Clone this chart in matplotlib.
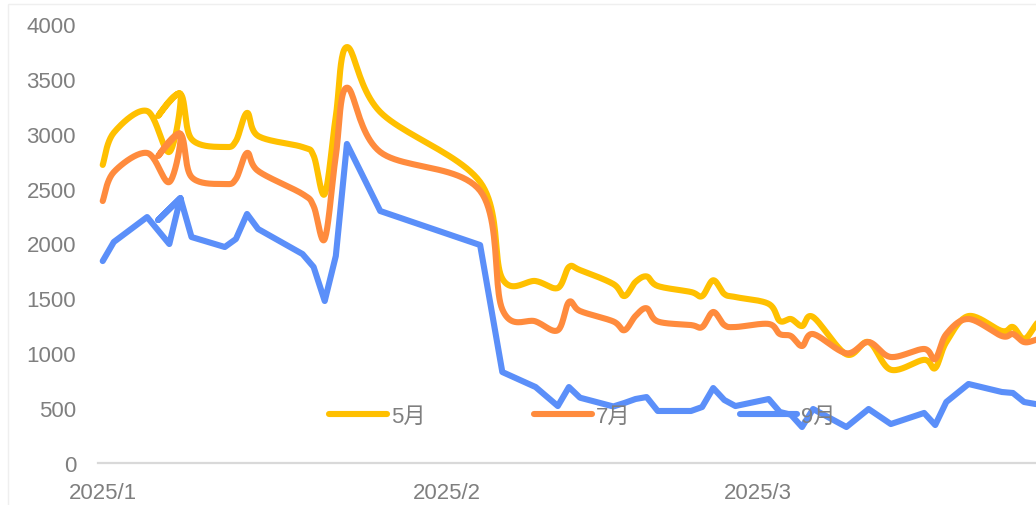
import matplotlib.pyplot as plt
import matplotlib.dates as mdates
import numpy as np
import pandas as pd
from matplotlib.patches import Rectangle

# data (dates are in source order, Jan 7 sits out of order)
dates = ['2025-01-02', '2025-01-03', '2025-01-06', '2025-01-08', '2025-01-09',
         '2025-01-07', '2025-01-09', '2025-01-10', '2025-01-13', '2025-01-14',
         '2025-01-15', '2025-01-16', '2025-01-20', '2025-01-21', '2025-01-22',
         '2025-01-23', '2025-01-24', '2025-01-27', '2025-02-05', '2025-02-07',
         '2025-02-10', '2025-02-12', '2025-02-13', '2025-02-14', '2025-02-17',
         '2025-02-18', '2025-02-19', '2025-02-20', '2025-02-21', '2025-02-24',
         '2025-02-25', '2025-02-26', '2025-02-27', '2025-02-28', '2025-03-03',
         '2025-03-04', '2025-03-05', '2025-03-06', '2025-03-07', '2025-03-10',
         '2025-03-12', '2025-03-14', '2025-03-17', '2025-03-18', '2025-03-19',
         '2025-03-21', '2025-03-24', '2025-03-25', '2025-03-26', '2025-03-27',
         '2025-03-28']

may = [2716, 3010, 3207, 2834, 3362, 3162, 3362, 2952, 2879, 2934,
       3190, 2980, 2879, 2800, 2451, 3160, 3790, 3198, 2560, 1680,
       1658, 1595, 1786, 1758, 1631, 1521, 1650, 1700, 1613, 1558,
       1521, 1665, 1540, 1512, 1450, 1294, 1312, 1248, 1330, 990,
       1102, 850, 940, 865, 1102, 1339, 1203, 1239, 1130, 1250,
       1400]

jul = [2387, 2651, 2825, 2560, 2998, 2797, 2998, 2606, 2542, 2588,
       2825, 2661, 2451, 2340, 2041, 2800, 3420, 2834, 2480, 1400,
       1290, 1210, 1467, 1385, 1290, 1210, 1340, 1410, 1290, 1257,
       1239, 1376, 1257, 1239, 1267, 1175, 1157, 1066, 1175, 1000,
       1102, 966, 1039, 948, 1175, 1312, 1157, 1175, 1102, 1120,
       1160]

sep = [1840, 2014, 2241, 1995, 2414, 2214, 2414, 2059, 1968, 2041,
       2269, 2132, 1904, 1786, 1476, 1886, 2907, 2296, 1986, 829,
       692, 519, 692, 595, 515, 547, 583, 601, 474, 474,
       510, 683, 574, 519, 583, 465, 440, 328, 492, 328,
       492, 355, 456, 346, 556, 720, 647, 638, 556, 538,
       530]

series_names = ['5月', '7月', '9月']
colors = ['#FFC000', '#FF8B3D', '#5B8FF9']
tick_dates = ['2025-01-02', '2025-02-02', '2025-03-02']
tick_labels = ['2025/1', '2025/2', '2025/3']

plt.rcParams['font.family'] = ['Liberation Sans', 'Noto Sans CJK SC']


def smooth(x, y, n=24):
    # Excel-like smoothed line: Catmull-Rom segments drawn as cubic Beziers
    p = np.column_stack([x, y]).astype(float)
    p = np.vstack([p[0], p, p[-1]])
    t = np.linspace(0, 1, n)[:, None]
    out = []
    for i in range(1, len(p) - 2):
        a, b = p[i], p[i + 1]
        c1 = a + (p[i + 1] - p[i - 1]) / 6
        c2 = b - (p[i + 2] - p[i]) / 6
        seg = (1 - t) ** 3 * a + 3 * (1 - t) ** 2 * t * c1 + 3 * (1 - t) * t ** 2 * c2 + t ** 3 * b
        out.append(seg if i == 1 else seg[1:])
    out = np.vstack(out)
    return out[:, 0], out[:, 1]


x = mdates.date2num(pd.to_datetime(dates))

fig = plt.figure(figsize=(10.36, 5.06), dpi=100)
fig.add_artist(Rectangle((8 / 1036, -0.1), 1.2, (501 / 506) + 0.1, transform=fig.transFigure,
                         fill=False, edgecolor='#efefef', linewidth=1))
ax = fig.add_axes([98 / 1036, 42 / 506, 938 / 1036, 439 / 506])

lw = 4.4
for name, vals, col, smoothed in zip(series_names, [may, jul, sep], colors, [True, True, False]):
    if smoothed:
        xs, ys = smooth(x, vals)
    else:
        xs, ys = x, np.array(vals)
    ax.plot(xs, ys, color=col, lw=lw, label=name,
            solid_capstyle='round', solid_joinstyle='round')

start = mdates.date2num(pd.Timestamp('2025-01-01'))
ax.set_xlim(start + 0.575, start + 85.08)
ax.set_ylim(0, 4000)
ax.set_yticks(np.arange(0, 4001, 500))
ax.set_xticks(mdates.date2num(pd.to_datetime(tick_dates)))
ax.set_xticklabels(tick_labels)

for s in ['top', 'right', 'left']:
    ax.spines[s].set_visible(False)
ax.spines['bottom'].set_color('#d9d9d9')
ax.spines['bottom'].set_linewidth(1.6)
ax.tick_params(length=0, colors='#7f7f7f', labelsize=16)
ax.tick_params(axis='y', pad=15.8)
ax.tick_params(axis='x', pad=13.5)

leg = ax.legend(loc='center left', bbox_to_anchor=(329 / 1036, (506 - 417) / 506),
                bbox_transform=fig.transFigure, ncol=3, frameon=False,
                fontsize=16, handlelength=2.6, handletextpad=0.18,
                columnspacing=4.9, borderpad=0, borderaxespad=0)
for t in leg.get_texts():
    t.set_color('#7f7f7f')

fig.savefig('out.png', dpi=100)
